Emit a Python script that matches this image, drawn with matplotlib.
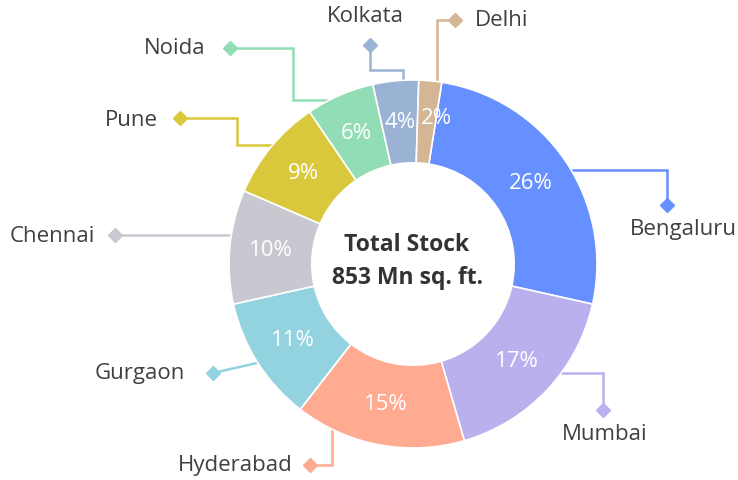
import numpy as np
import matplotlib
matplotlib.use('Agg')
import matplotlib.pyplot as plt

# data
cities = ['Bengaluru', 'Mumbai', 'Hyderabad', 'Gurgaon', 'Chennai',
          'Pune', 'Noida', 'Kolkata', 'Delhi']
shares = [26, 17, 15, 11, 10, 9, 6, 4, 2]
colors = ['#6690FF', '#BAB0EE', '#FFAB91', '#92D3DF', '#C8C8D0',
          '#D9C83C', '#92DDB5', '#9AB3D5', '#D4B594']
center_lines = ['Total Stock', '853 Mn sq. ft.']

W, H = 738, 480


def px(x, y):
    # pixel coords (origin top-left) -> axes data coords
    return x, H - y


# layout: leader paths and label anchors, in pixels
leaders = {
    'Bengaluru': [(572, 170), (667, 170), (667, 205)],
    'Mumbai': [(560, 373), (603, 373), (603, 410)],
    'Hyderabad': [(332, 430), (332, 465), (310, 465)],
    'Gurgaon': [(257, 363), (213, 373)],
    'Chennai': [(230, 235), (115, 235)],
    'Pune': [(273, 145), (237, 145), (237, 118), (180, 118)],
    'Noida': [(333, 100), (293, 100), (293, 48), (230, 48)],
    'Kolkata': [(403, 80), (403, 70), (370, 70), (370, 45)],
    'Delhi': [(437, 82), (437, 20), (455, 20)],
}
label_pos = {
    'Bengaluru': (683, 229, 'center'),
    'Mumbai': (605, 434, 'center'),
    'Hyderabad': (293, 466, 'right'),
    'Gurgaon': (185, 374, 'right'),
    'Chennai': (95, 237, 'right'),
    'Pune': (158, 120, 'right'),
    'Noida': (205, 49, 'right'),
    'Kolkata': (365, 16, 'center'),
    'Delhi': (475, 21, 'left'),
}

plt.rcParams['font.family'] = ['Open Sans', 'DejaVu Sans']

fig = plt.figure(figsize=(W / 100, H / 100), dpi=100)
ax = fig.add_axes([0, 0, 1, 1])

R = 184
cx, cy = px(413, 264)
wedges, texts, autotexts = ax.pie(
    shares, colors=colors, radius=R, center=(cx, cy),
    startangle=81, counterclock=False,
    autopct=lambda p: f'{p:.0f}%', pctdistance=0.775,
    wedgeprops=dict(width=R * 0.45, edgecolor='white', linewidth=1.2),
    textprops=dict(color='white', fontsize=16))

# nudge the tiny Delhi label like the original
dx, dy = autotexts[-1].get_position()
autotexts[-1].set_position((dx + 10, dy + 4))

for city, color in zip(cities, colors):
    pts = [px(x, y) for x, y in leaders[city]]
    xs, ys = zip(*pts)
    ax.plot(xs, ys, color=color, lw=1.8, zorder=0.5, solid_joinstyle='miter')
    ax.plot(xs[-1], ys[-1], marker='D', ms=7, color=color, zorder=0.6)
    lx, ly, ha = label_pos[city]
    ax.text(*px(lx, ly), city, ha=ha, va='center', fontsize=16, color='#404040')

ax.text(*px(407, 245), center_lines[0], ha='center', va='center',
        fontsize=16.5, fontweight='bold', color='#333333')
ax.text(*px(407, 278), center_lines[1], ha='center', va='center',
        fontsize=16.5, fontweight='bold', color='#333333')

ax.set_xlim(0, W)
ax.set_ylim(0, H)
ax.set_aspect('equal')
ax.axis('off')

plt.savefig('out.png', dpi=100)
